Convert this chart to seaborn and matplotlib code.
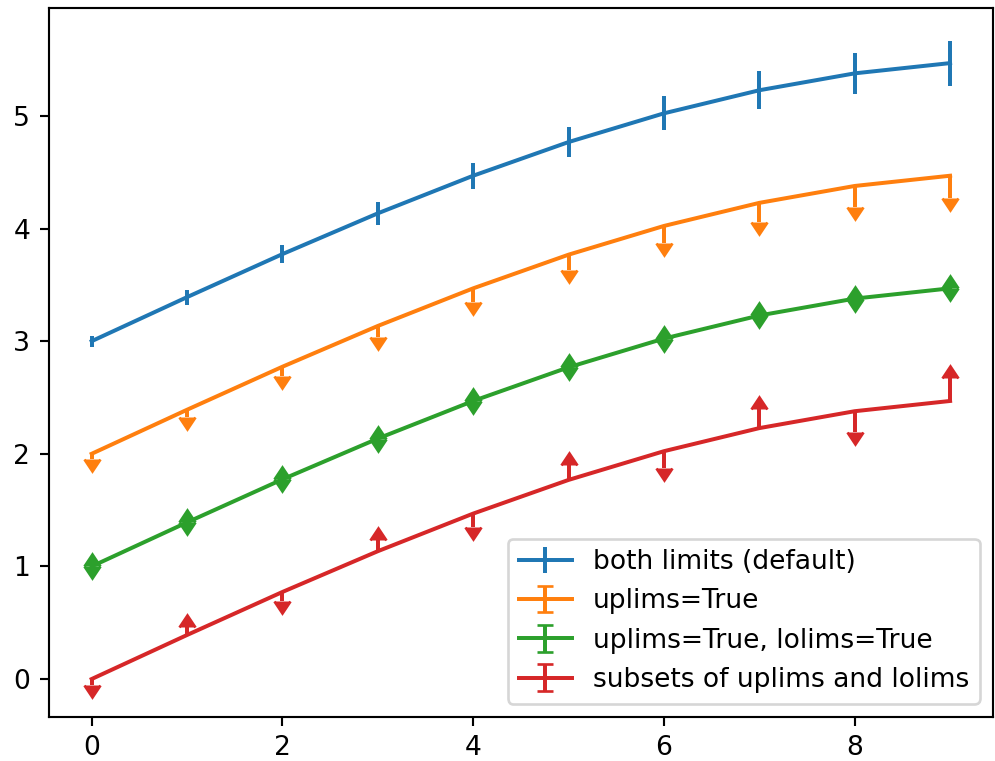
"""Errorbar limits chart recreated with seaborn palette and matplotlib errorbars."""
import matplotlib
matplotlib.use("Agg")
import matplotlib.pyplot as plt
import numpy as np
import seaborn as sns

# values
x_vals = [0, 1, 2, 3, 4, 5, 6, 7, 8, 9]
base_curve = [0.0, 0.391, 0.773, 1.135, 1.469, 1.768, 2.023, 2.228, 2.378, 2.469]
err_sizes = [0.05, 0.067, 0.083, 0.10, 0.117, 0.133, 0.15, 0.167, 0.183, 0.20]
offsets = [3, 2, 1, 0]
labels = [
    "both limits (default)",
    "uplims=True",
    "uplims=True, lolims=True",
    "subsets of uplims and lolims",
]
upper_subset = [True, False] * 5
lower_subset = [False, True] * 5

colors = sns.color_palette("tab10", 4)

DPI = 191
fig, ax = plt.subplots(figsize=(995 / DPI, 761 / DPI), dpi=DPI)
fig.subplots_adjust(left=0.049, right=0.998, bottom=0.058, top=0.989)

x = np.array(x_vals)
y = np.array(base_curve)
yerr = np.array(err_sizes)

ax.errorbar(x, y + offsets[0], yerr=yerr, color=colors[0], label=labels[0])
ax.errorbar(x, y + offsets[1], yerr=yerr, uplims=True, color=colors[1], label=labels[1])
ax.errorbar(x, y + offsets[2], yerr=yerr, uplims=True, lolims=True,
            color=colors[2], label=labels[2])
ax.errorbar(x, y + offsets[3], yerr=yerr, uplims=upper_subset, lolims=lower_subset,
            color=colors[3], label=labels[3])

ax.legend(loc="lower right")
fig.savefig("out.png", dpi=DPI)
